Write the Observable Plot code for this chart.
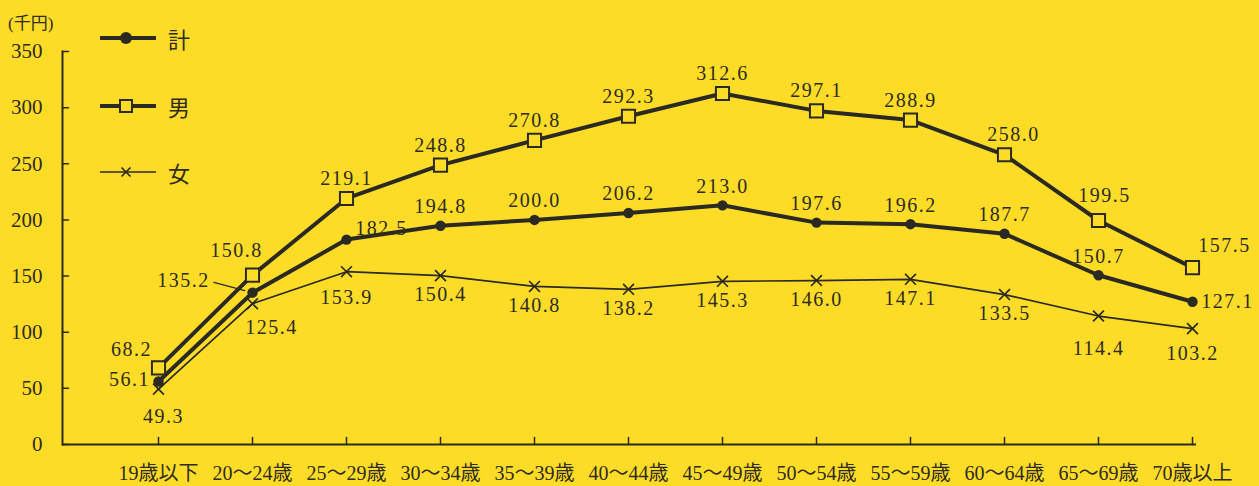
<!DOCTYPE html>
<html>
<head>
<meta charset="utf-8">
<script src="https://cdn.jsdelivr.net/npm/d3@7"></script>
<script src="https://cdn.jsdelivr.net/npm/@observablehq/plot@0.6"></script>
<style>
  html, body { margin: 0; padding: 0; background: #fddc28; }
  #wrap { position: relative; width: 1259px; height: 486px; overflow: hidden; background: #fddc28; }
  #unit { position: absolute; left: 8px; top: 9px; font-family: Liberation Serif, Noto Sans CJK JP, serif; font-size: 17px; color: #2e2b20; }
  #legend { position: absolute; left: 100px; top: 0; font-family: Noto Sans CJK JP, sans-serif; font-size: 22px; color: #2e2b20; }
  .row { position: absolute; left: 0; display: flex; align-items: center; height: 26px; white-space: nowrap; }
  .row svg { display: block; }
  .row span { margin-left: 12px; line-height: 26px; }
  svg text { font-family: Liberation Serif, Noto Sans CJK JP, serif; }
  g[aria-label="text"] text { letter-spacing: 1.5px; }
</style>
</head>
<body>
<div id="wrap">
  <div id="unit">(千円)</div>
  <div id="legend"></div>
</div>
<script>
// ---- data ----
const categories = ["19歳以下", "20～24歳", "25～29歳", "30～34歳", "35～39歳", "40～44歳", "45～49歳", "50～54歳", "55～59歳", "60～64歳", "65～69歳", "70歳以上"];
const totalValues  = [56.1, 135.2, 182.5, 194.8, 200.0, 206.2, 213.0, 197.6, 196.2, 187.7, 150.7, 127.1];
const maleValues   = [68.2, 150.8, 219.1, 248.8, 270.8, 292.3, 312.6, 297.1, 288.9, 258.0, 199.5, 157.5];
const femaleValues = [49.3, 125.4, 153.9, 150.4, 140.8, 138.2, 145.3, 146.0, 147.1, 133.5, 114.4, 103.2];
const yTicks = [0, 50, 100, 150, 200, 250, 300, 350];
const seriesNames = ["計", "男", "女"];

// ---- styling ----
const BG = "#fddc28";
const INK = "#2e2b20";
const LINE = "#2b2a22";
const NUM_FONT = "Liberation Serif, Noto Sans CJK JP, serif";

const rows = (name, vals) => categories.map((age, i) => ({series: name, age, i, value: vals[i], label: vals[i].toFixed(1)}));
const totalRows = rows(seriesNames[0], totalValues);
const maleRows = rows(seriesNames[1], maleValues);
const femaleRows = rows(seriesNames[2], femaleValues);

// label placement (pixel offsets from the point)
const defaultOffset = {"計": [0, -19], "男": [0, -20], "女": [0, 19]};
const overrides = {
  "男": {0: [-27, -18], 1: [-16, -25], 9: [9, -20], 10: [6, -25], 11: [32, -22]},
  "計": {0: [-29, -2], 1: [-69, -12], 2: [35, -11], 11: [35, 0]},
  "女": {0: [5, 27], 1: [19, 24], 2: [0, 26], 10: [0, 33], 11: [0, 25]}
};
const offsetOf = d => (overrides[d.series][d.i] || defaultOffset[d.series]);

const labelMarks = [...femaleRows, ...totalRows, ...maleRows].map(d => {
  const [dx, dy] = offsetOf(d);
  return Plot.text([d], {x: "age", y: "value", text: "label", dx, dy, fill: INK, fontSize: 20, fontFamily: NUM_FONT});
});

const tickShape = {draw(ctx, l) { ctx.moveTo(0, 0); ctx.lineTo(0, -l); }};
const leaderShape = {draw(ctx, l) { ctx.moveTo(0, -8); ctx.lineTo(0, -l); }};

const chart = Plot.plot({
  width: 1259,
  height: 486,
  marginLeft: 62,
  marginRight: 63,
  marginTop: 51,
  marginBottom: 42,
  style: {background: "transparent", overflow: "visible", fontFamily: NUM_FONT},
  x: {type: "point", domain: categories, range: [154, 1196], padding: 0, label: null},
  y: {domain: [0, 350], label: null},
  marks: [
    Plot.frame({anchor: "left", stroke: LINE, strokeWidth: 2}),
    Plot.ruleY([0], {stroke: LINE, strokeWidth: 2}),
    Plot.vector(yTicks, {y: d => d, frameAnchor: "left", length: 6, rotate: 90, anchor: "start", shape: tickShape, stroke: LINE, strokeWidth: 1.5}),
    Plot.vector(categories, {x: d => d, frameAnchor: "bottom", length: 7, rotate: 0, anchor: "start", shape: tickShape, stroke: LINE, strokeWidth: 1.5}),
    Plot.axisY(yTicks, {tickSize: 0, tickPadding: 20, fontSize: 21, fontFamily: NUM_FONT, fill: INK, label: null}),
    Plot.axisX({tickSize: 0, tickPadding: 21, fontSize: 20, fontFamily: NUM_FONT, fill: INK, label: null}),
    // leader for 135.2
    Plot.vector(totalRows.filter(d => d.i === 1), {x: "age", y: "value", length: 40, rotate: 285, anchor: "start", shape: leaderShape, stroke: LINE, strokeWidth: 1.2}),
    // 女
    Plot.line(femaleRows, {x: "age", y: "value", stroke: LINE, strokeWidth: 1.7}),
    Plot.dot(femaleRows, {x: "age", y: "value", symbol: "times", r: 5, stroke: LINE, strokeWidth: 1.7}),
    // 計
    Plot.line(totalRows, {x: "age", y: "value", stroke: LINE, strokeWidth: 4}),
    Plot.dot(totalRows, {x: "age", y: "value", symbol: "circle", r: 5.2, fill: LINE, stroke: null}),
    // 男
    Plot.line(maleRows, {x: "age", y: "value", stroke: LINE, strokeWidth: 4}),
    Plot.dot(maleRows, {x: "age", y: "value", symbol: "square", r: 7.4, fill: BG, stroke: LINE, strokeWidth: 2}),
    ...labelMarks
  ]
});
document.getElementById("wrap").prepend(chart);

// ---- legend ----
const legendSpecs = [
  {name: seriesNames[0], top: 25, width: 4, marker: `<circle cx="26" cy="13" r="6" fill="${LINE}"/>`},
  {name: seriesNames[1], top: 93, width: 4, marker: `<rect x="20" y="7" width="12" height="12" fill="${BG}" stroke="${LINE}" stroke-width="2"/>`},
  {name: seriesNames[2], top: 159, width: 1.5, marker: `<path d="M21.5,8.5L30.5,17.5M30.5,8.5L21.5,17.5" stroke="${LINE}" stroke-width="1.7"/>`}
];
const legend = document.getElementById("legend");
for (const s of legendSpecs) {
  const row = document.createElement("div");
  row.className = "row";
  row.style.top = s.top + "px";
  row.innerHTML = `<svg width="56" height="26"><line x1="0" x2="56" y1="13" y2="13" stroke="${LINE}" stroke-width="${s.width}"/>${s.marker}</svg><span>${s.name}</span>`;
  legend.appendChild(row);
}
</script>
</body>
</html>
